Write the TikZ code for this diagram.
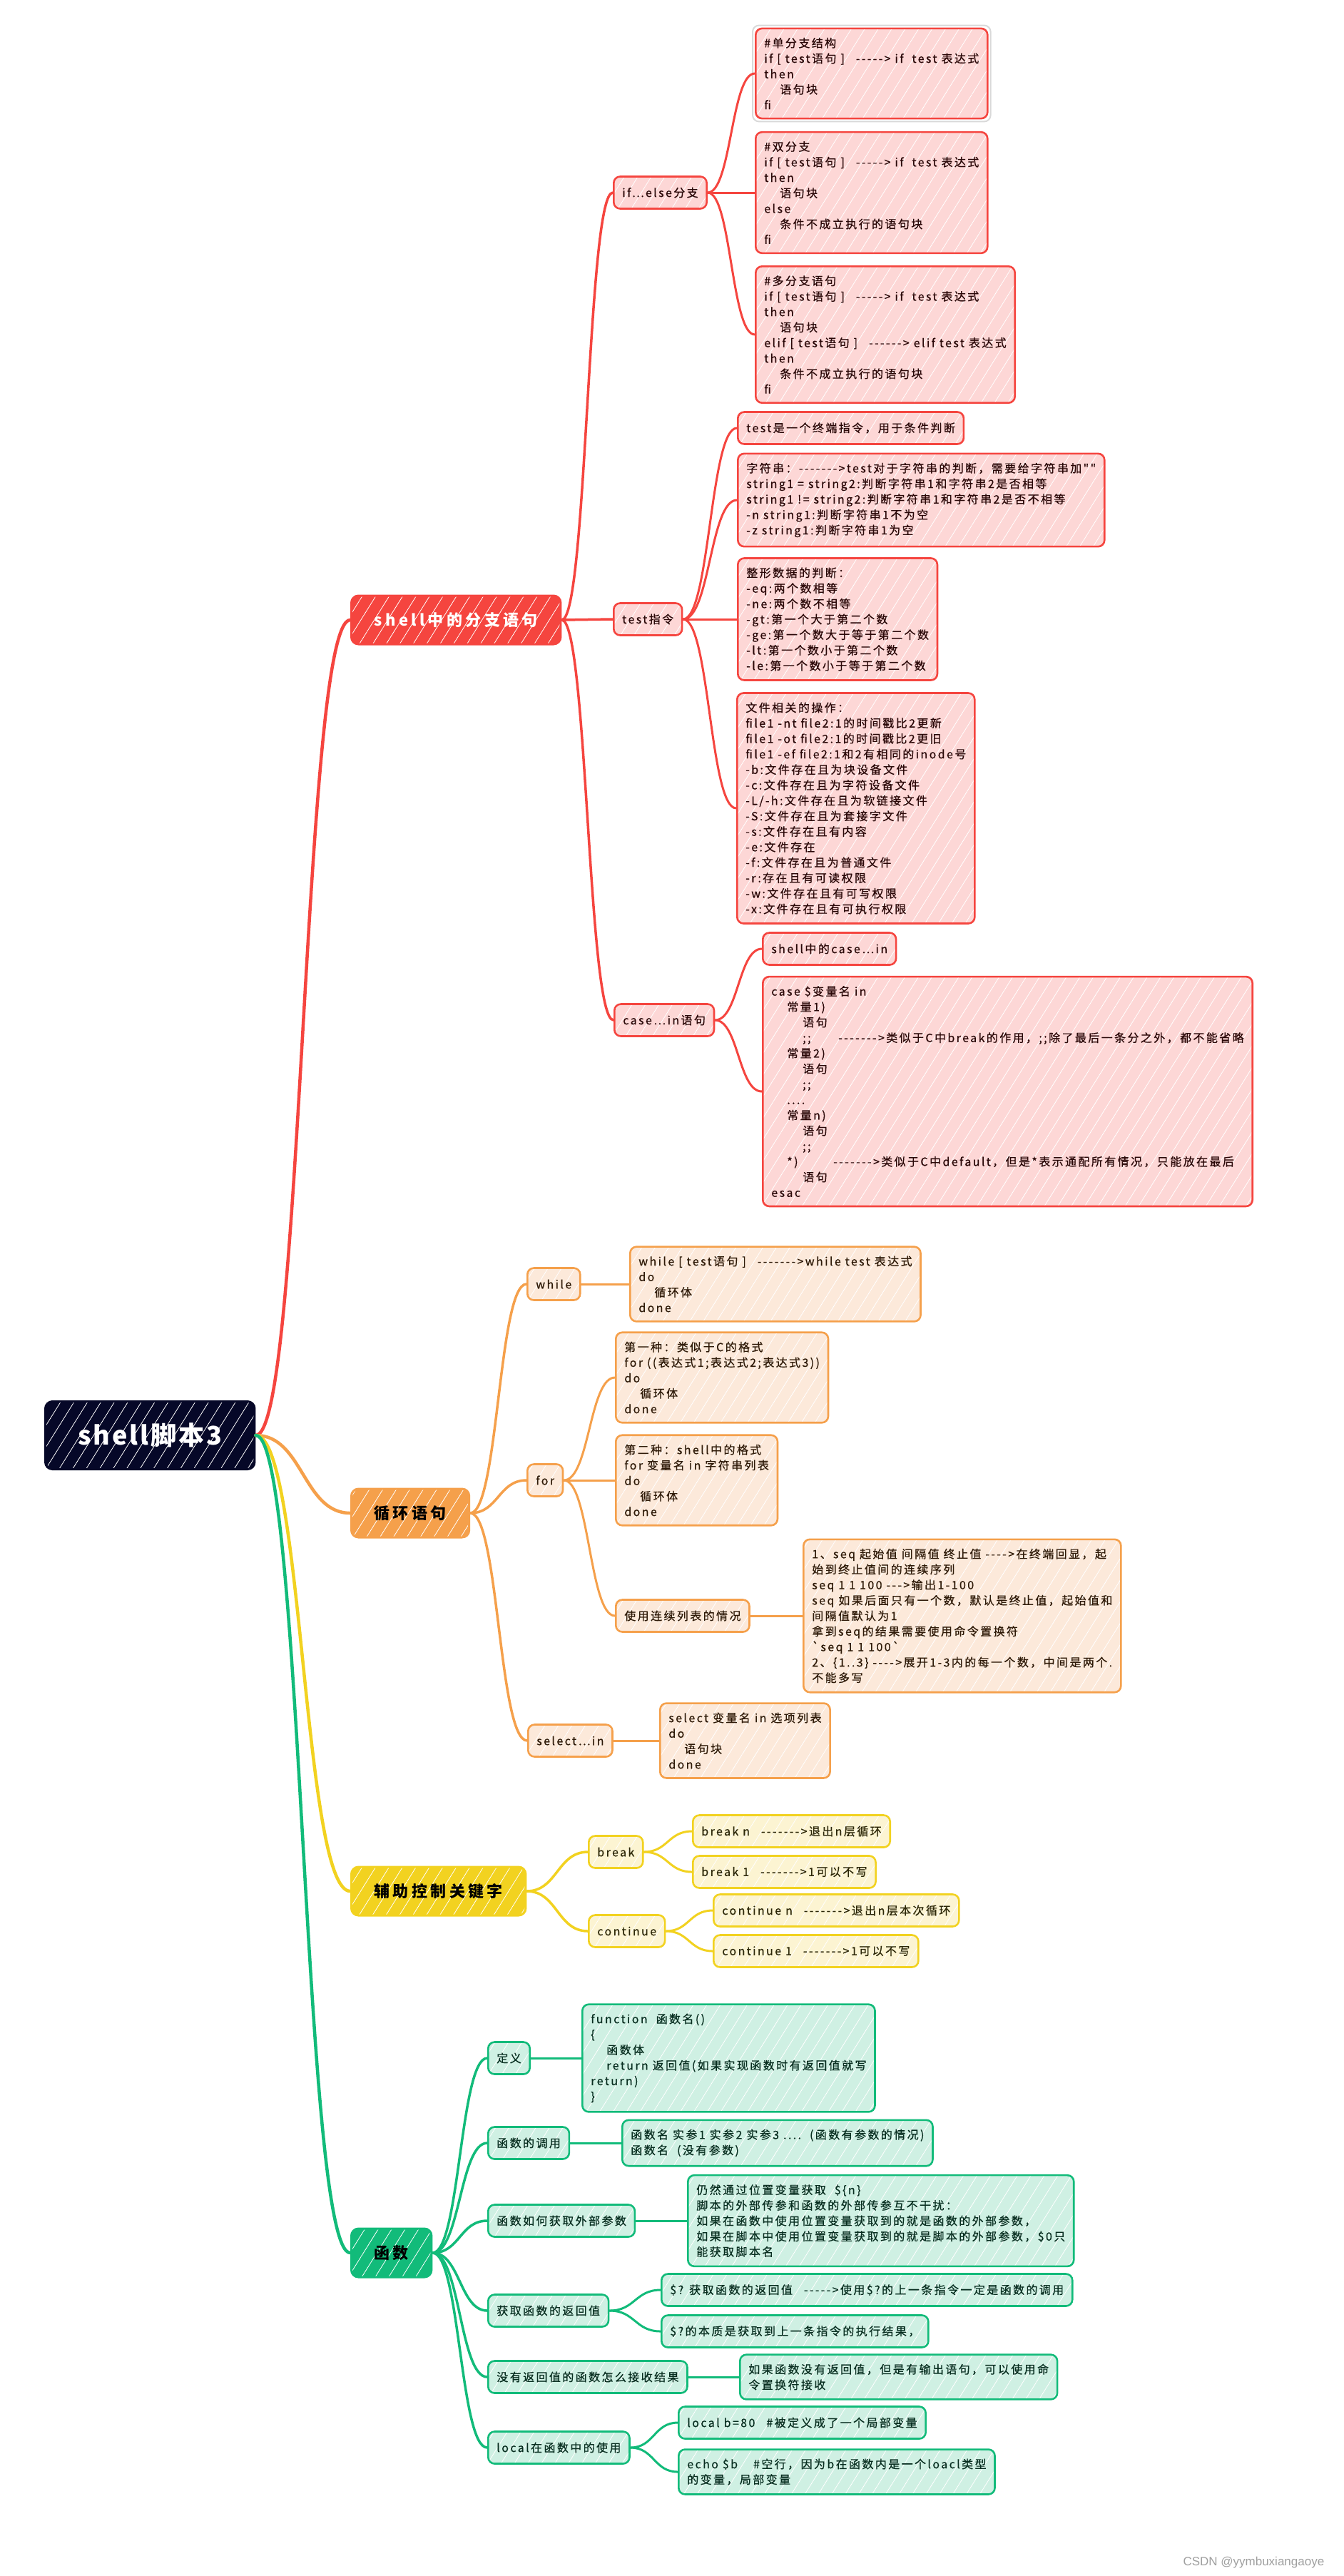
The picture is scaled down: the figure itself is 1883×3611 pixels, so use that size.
\documentclass[tikz,border=0pt]{standalone}
\usepackage{fontspec}
\usetikzlibrary{calc,patterns.meta}
\newfontfamily\mmfont{Noto Sans CJK SC}[LetterSpace=15,FakeBold=0.6]
\newfontfamily\topicfont{Noto Sans CJK SC}[LetterSpace=20]
\newfontfamily\rootfont{Noto Sans CJK SC}[LetterSpace=8]
\newfontfamily\markfont{Liberation Sans}
\definecolor{rootc}{HTML}{060828}
\definecolor{redc}{HTML}{F5453F}
\definecolor{redl}{HTML}{FDD7D6}
\definecolor{redt}{HTML}{2A0808}
\definecolor{orc}{HTML}{F5A04B}
\definecolor{orl}{HTML}{FCE9DA}
\definecolor{ort}{HTML}{2E1A08}
\definecolor{yec}{HTML}{F2D220}
\definecolor{yel}{HTML}{FCF4D2}
\definecolor{yet}{HTML}{2C2708}
\definecolor{grc}{HTML}{12BB7A}
\definecolor{grl}{HTML}{CFF0E3}
\definecolor{grt}{HTML}{082E20}
\newcommand\indsp{\hspace*{22pt}}
\begin{document}
\begin{tikzpicture}[
  x=1pt, y=-1pt,
  hatchfill/.style={preaction={fill=#1},
    preaction={pattern={Lines[angle=58,distance=16pt,line width=0.8pt]}, pattern color=white, fill opacity=0.6}},
  mainnode/.style={hatchfill=rootc, draw=rootc, line width=3pt, rounded corners=10pt, text=white,
    font=\rootfont\bfseries\fontsize{36}{40}\selectfont, minimum height=95pt, inner xsep=46pt, anchor=west},
  topicnode/.style 2 args={hatchfill=#1, draw=#1, line width=3pt, rounded corners=10pt, text=#2,
    font=\topicfont\bfseries\fontsize{22}{26}\selectfont, minimum height=68pt, inner xsep=32pt, anchor=west},
  leafnode/.style={line width=2.6pt, rounded corners=9pt, font=\mmfont\fontsize{16}{21.7}\selectfont,
    align=left, inner xsep=12pt, inner ysep=13pt, minimum height=45pt, anchor=west},
  redbox/.style={leafnode, hatchfill=redl, draw=redc, text=redt},
  orbox/.style={leafnode, hatchfill=orl, draw=orc, text=ort},
  yebox/.style={leafnode, hatchfill=yel, draw=yec, text=yet},
  grbox/.style={leafnode, hatchfill=grl, draw=grc, text=grt},
  rootlink/.style={line width=4.5pt, line cap=round},
  midlink/.style={line width=3.5pt, line cap=round},
  leaflink/.style={line width=3pt, line cap=round},
  curvy/.style={to path={let \p1=(\tikztostart), \p2=(\tikztotarget) in
    .. controls ({(\x1+\x2)/2},\y1) and ({(\x1+\x2)/2},\y2) .. (\tikztotarget)}}
  ]
  \path[use as bounding box, fill=white] (0,0) rectangle (1883,3611);

  \node[mainnode] (root) at (62,2012) {shell脚本3};

  \node[topicnode={redc}{white}] (br) at (491,869) {shell中的分支语句};
  \node[topicnode={orc}{black}] (loop) at (491,2121) {循环语句};
  \node[topicnode={yec}{black}] (kw) at (491,2651) {辅助控制关键字};
  \node[topicnode={grc}{black}] (fn) at (491,3158) {函数};

  \node[redbox] (ifelse) at (859,270) {if…else分支};
  \node[redbox] (test) at (859,868) {test指令};
  \node[redbox] (case) at (860,1430) {case…in语句};

  \node[redbox] (ifA) at (1058,103) {\#单分支结构\\if [ test语句 ]\quad -----> if\ \ test 表达式\\then\\\indsp 语句块\\fi};
  \node[redbox] (ifB) at (1058,270) {\#双分支\\if [ test语句 ]\quad -----> if\ \ test 表达式\\then\\\indsp 语句块\\else\\\indsp 条件不成立执行的语句块\\fi};
  \node[redbox] (ifC) at (1058,469) {\#多分支语句\\if [ test语句 ]\quad -----> if\ \ test 表达式\\then\\\indsp 语句块\\elif [ test语句 ]\quad ------> elif test 表达式\\then\\\indsp 条件不成立执行的语句块\\fi};
  \draw[gray!30, line width=2pt, rounded corners=9pt] ($(ifA.north west)+(-3,-3)$) rectangle ($(ifA.south east)+(3,3)$);

  \node[redbox] (t1) at (1033,600) {test是一个终端指令，用于条件判断};
  \node[redbox] (t2) at (1033,701) {字符串：------->test对于字符串的判断，需要给字符串加""\\string1 = string2:判断字符串1和字符串2是否相等\\string1 != string2:判断字符串1和字符串2是否不相等\\-n string1:判断字符串1不为空\\-z string1:判断字符串1为空};
  \node[redbox] (t3) at (1033,868) {整形数据的判断：\\-eq:两个数相等\\-ne:两个数不相等\\-gt:第一个大于第二个数\\-ge:第一个数大于等于第二个数\\-lt:第一个数小于第二个数\\-le:第一个数小于等于第二个数};
  \node[redbox] (t4) at (1032,1133) {文件相关的操作：\\file1 -nt file2:1的时间戳比2更新\\file1 -ot file2:1的时间戳比2更旧\\file1 -ef file2:1和2有相同的inode号\\-b:文件存在且为块设备文件\\-c:文件存在且为字符设备文件\\-L/-h:文件存在且为软链接文件\\-S:文件存在且为套接字文件\\-s:文件存在且有内容\\-e:文件存在\\-f:文件存在且为普通文件\\-r:存在且有可读权限\\-w:文件存在且有可写权限\\-x:文件存在且有可执行权限};

  \node[redbox] (c1) at (1068,1330) {shell中的case…in};
  \node[redbox] (c2) at (1068,1530) {case \$变量名 in\\\indsp 常量1)\\\indsp\indsp 语句\\\indsp\indsp\makebox[50pt][l]{;;}------->类似于C中break的作用，;;除了最后一条分之外，都不能省略\\\indsp 常量2)\\\indsp\indsp 语句\\\indsp\indsp ;;\\\indsp ....\\\indsp 常量n)\\\indsp\indsp 语句\\\indsp\indsp ;;\\\indsp\makebox[65pt][l]{*)}------->类似于C中default，但是*表示通配所有情况，只能放在最后\\\indsp\indsp 语句\\esac};

  \node[orbox] (while) at (738,1800) {while};
  \node[orbox] (wbox) at (882,1800) {while [ test语句 ]\quad ------->while test 表达式\\do\\\indsp 循环体\\done};
  \node[orbox] (for) at (738,2075) {for};
  \node[orbox] (f1) at (862,1931) {第一种：类似于C的格式\\for ((表达式1;表达式2;表达式3))\\do\\\indsp 循环体\\done};
  \node[orbox] (f2) at (862,2075) {第二种：shell中的格式\\for 变量名 in 字符串列表\\do\\\indsp 循环体\\done};
  \node[orbox] (seqn) at (862,2265) {使用连续列表的情况};
  \node[orbox] (seqbox) at (1125,2265) {1、seq 起始值 间隔值 终止值 ---->在终端回显，起\\始到终止值间的连续序列\\seq 1 1 100 --->输出1-100\\seq 如果后面只有一个数，默认是终止值，起始值和\\间隔值默认为1\\拿到seq的结果需要使用命令置换符\\`seq 1 1 100`\\2、\{1..3\} ---->展开1-3内的每一个数，中间是两个.\\不能多写};
  \node[orbox] (select) at (739,2440) {select…in};
  \node[orbox] (selbox) at (924,2440) {select 变量名 in 选项列表\\do\\\indsp 语句块\\done};

  \node[yebox] (brk) at (824,2596) {break};
  \node[yebox] (cont) at (824,2707) {continue};
  \node[yebox] (brn) at (970,2567) {break n\quad ------->退出n层循环};
  \node[yebox] (br1) at (970,2624) {break 1\quad ------->1可以不写};
  \node[yebox] (ctn) at (999,2678) {continue n\quad ------->退出n层本次循环};
  \node[yebox] (ct1) at (999,2735) {continue 1\quad ------->1可以不写};

  \node[grbox] (def) at (683,2885) {定义};
  \node[grbox] (defbox) at (815,2885) {function\ \ 函数名()\\\{\\\indsp 函数体\\\indsp return 返回值(如果实现函数时有返回值就写\\return)\\\}};
  \node[grbox] (call) at (683,3004) {函数的调用};
  \node[grbox] (callbox) at (871,3004) {函数名 实参1 实参2 实参3 ....\ \ (函数有参数的情况)\\函数名\ \ (没有参数)};
  \node[grbox] (args) at (683,3113) {函数如何获取外部参数};
  \node[grbox] (argsbox) at (963,3113) {仍然通过位置变量获取\ \ \$\{n\}\\脚本的外部传参和函数的外部传参互不干扰：\\如果在函数中使用位置变量获取到的就是函数的外部参数，\\如果在脚本中使用位置变量获取到的就是脚本的外部参数，\$0只\\能获取脚本名};
  \node[grbox] (ret) at (683,3239) {获取函数的返回值};
  \node[grbox] (ret1) at (926,3210) {\$? 获取函数的返回值\quad ----->使用\$?的上一条指令一定是函数的调用};
  \node[grbox] (ret2) at (926,3268) {\$?的本质是获取到上一条指令的执行结果，};
  \node[grbox] (noret) at (683,3332) {没有返回值的函数怎么接收结果};
  \node[grbox] (noretbox) at (1036,3332) {如果函数没有返回值，但是有输出语句，可以使用命\\令置换符接收};
  \node[grbox] (loc) at (683,3431) {local在函数中的使用};
  \node[grbox] (loc1) at (950,3396) {local b=80\quad \#被定义成了一个局部变量};
  \node[grbox] (loc2) at (950,3465) {echo \$b\quad\ \#空行，因为b在函数内是一个loacl类型\\的变量，局部变量};

  \node[font=\markfont\fontsize{17}{20}\selectfont, text=gray!75, anchor=west] (mark) at (1655,3592) {CSDN @yymbuxiangaoye};

  \draw[rootlink, redc] (root.east) to[curvy] (br.west);
  \draw[rootlink, orc] (root.east) to[curvy] (loop.west);
  \draw[rootlink, yec] (root.east) to[curvy] (kw.west);
  \draw[rootlink, grc] (root.east) to[curvy] (fn.west);

  \draw[midlink, redc] (br.east) to[curvy] (ifelse.west);
  \draw[midlink, redc] (br.east) to[curvy] (test.west);
  \draw[midlink, redc] (br.east) to[curvy] (case.west);
  \draw[leaflink, redc] (ifelse.east) to[curvy] (ifA.west);
  \draw[leaflink, redc] (ifelse.east) to[curvy] (ifB.west);
  \draw[leaflink, redc] (ifelse.east) to[curvy] (ifC.west);
  \draw[leaflink, redc] (test.east) to[curvy] (t1.west);
  \draw[leaflink, redc] (test.east) to[curvy] (t2.west);
  \draw[leaflink, redc] (test.east) to[curvy] (t3.west);
  \draw[leaflink, redc] (test.east) to[curvy] (t4.west);
  \draw[leaflink, redc] (case.east) to[curvy] (c1.west);
  \draw[leaflink, redc] (case.east) to[curvy] (c2.west);

  \draw[midlink, orc] (loop.east) to[curvy] (while.west);
  \draw[midlink, orc] (loop.east) to[curvy] (for.west);
  \draw[midlink, orc] (loop.east) to[curvy] (select.west);
  \draw[leaflink, orc] (while.east) to[curvy] (wbox.west);
  \draw[leaflink, orc] (for.east) to[curvy] (f1.west);
  \draw[leaflink, orc] (for.east) to[curvy] (f2.west);
  \draw[leaflink, orc] (for.east) to[curvy] (seqn.west);
  \draw[leaflink, orc] (seqn.east) to[curvy] (seqbox.west);
  \draw[leaflink, orc] (select.east) to[curvy] (selbox.west);

  \draw[midlink, yec] (kw.east) to[curvy] (brk.west);
  \draw[midlink, yec] (kw.east) to[curvy] (cont.west);
  \draw[leaflink, yec] (brk.east) to[curvy] (brn.west);
  \draw[leaflink, yec] (brk.east) to[curvy] (br1.west);
  \draw[leaflink, yec] (cont.east) to[curvy] (ctn.west);
  \draw[leaflink, yec] (cont.east) to[curvy] (ct1.west);

  \draw[midlink, grc] (fn.east) to[curvy] (def.west);
  \draw[midlink, grc] (fn.east) to[curvy] (call.west);
  \draw[midlink, grc] (fn.east) to[curvy] (args.west);
  \draw[midlink, grc] (fn.east) to[curvy] (ret.west);
  \draw[midlink, grc] (fn.east) to[curvy] (noret.west);
  \draw[midlink, grc] (fn.east) to[curvy] (loc.west);
  \draw[leaflink, grc] (def.east) to[curvy] (defbox.west);
  \draw[leaflink, grc] (call.east) to[curvy] (callbox.west);
  \draw[leaflink, grc] (args.east) to[curvy] (argsbox.west);
  \draw[leaflink, grc] (ret.east) to[curvy] (ret1.west);
  \draw[leaflink, grc] (ret.east) to[curvy] (ret2.west);
  \draw[leaflink, grc] (noret.east) to[curvy] (noretbox.west);
  \draw[leaflink, grc] (loc.east) to[curvy] (loc1.west);
  \draw[leaflink, grc] (loc.east) to[curvy] (loc2.west);
\end{tikzpicture}
\end{document}
